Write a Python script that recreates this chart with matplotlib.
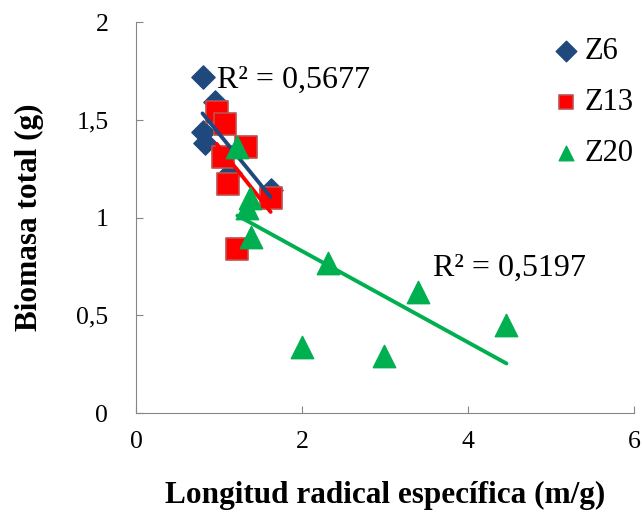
import matplotlib
matplotlib.use('Agg')
import matplotlib.pyplot as plt
import numpy as np
from matplotlib.ticker import FuncFormatter

plt.rcParams['font.family'] = ['Liberation Serif', 'DejaVu Serif']

# data
z6_x = [0.80, 0.81, 0.83, 0.95, 1.13, 1.62]
z6_y = [1.72, 1.44, 1.38, 1.59, 1.23, 1.14]
z13_x = [0.97, 1.07, 1.32, 1.05, 1.11, 1.62, 1.22]
z13_y = [1.54, 1.48, 1.36, 1.31, 1.17, 1.10, 0.84]
z20_x = [1.22, 1.34, 1.37, 1.38, 2.31, 3.40, 4.46, 2.00, 2.98]
z20_y = [1.36, 1.05, 1.10, 0.90, 0.77, 0.62, 0.45, 0.34, 0.29]
r2_labels = ['R² = 0,5677', 'R² = 0,5197']

fig = plt.figure(figsize=(6.42, 5.15), dpi=100)
ax = fig.add_axes([0.212, 0.198, 0.776, 0.759])

def trend(x, y, color, z):
    x = np.array(x); y = np.array(y)
    m, b = np.polyfit(x, y, 1)
    xs = np.array([x.min(), x.max()])
    ax.plot(xs, m * xs + b, color=color, lw=2.8, zorder=z, solid_capstyle='round')

ax.scatter(z6_x, z6_y, marker='D', s=140, color='#1F497D', edgecolor='#1F497D', zorder=3, label='Z6')
ax.scatter(z13_x, z13_y, marker='s', s=250, color='#FF0000', edgecolor='#C0504D', linewidth=1.2, zorder=3.5, label='Z13')
trend(z13_x, z13_y, '#FF0000', 4)
trend(z6_x, z6_y, '#1F497D', 4.5)
ax.scatter(z20_x, z20_y, marker='^', s=260, color='#00B050', edgecolor='#00B050', zorder=5, label='Z20')
trend(z20_x, z20_y, '#00B050', 5.5)

ax.text(0.97, 1.70, r2_labels[0], fontsize=23, va='center', ha='left')
ax.text(3.57, 0.74, r2_labels[1], fontsize=23, va='center', ha='left')

ax.set_xlim(0, 6)
ax.set_ylim(0, 2)
ax.set_xticks([0, 2, 4, 6])
ax.set_yticks([0, 0.5, 1, 1.5, 2])
ax.yaxis.set_major_formatter(FuncFormatter(lambda v, p: ('%g' % v).replace('.', ',')))
for s in ['top', 'right']:
    ax.spines[s].set_visible(False)
for s in ['left', 'bottom']:
    ax.spines[s].set_color('#868686')
ax.tick_params(direction='in', length=5, color='#868686', labelsize=18.5, pad=13)
ax.tick_params(axis='y', pad=20)

ax.set_xlabel('Longitud radical específica (m/g)', fontsize=22.5, fontweight='bold', labelpad=20)
ax.set_ylabel('Biomasa total (g)', fontsize=22.5, fontweight='bold', labelpad=23)

leg = ax.legend(loc='upper right', bbox_to_anchor=(1.035, 1.01), frameon=False, fontsize=22,
                labelspacing=0.72, handlelength=1.2, handletextpad=0.0, borderaxespad=0.2,
                scatterpoints=1)
for h in leg.legend_handles:
    h.set_sizes([110])

fig.savefig('out.png', dpi=100)
